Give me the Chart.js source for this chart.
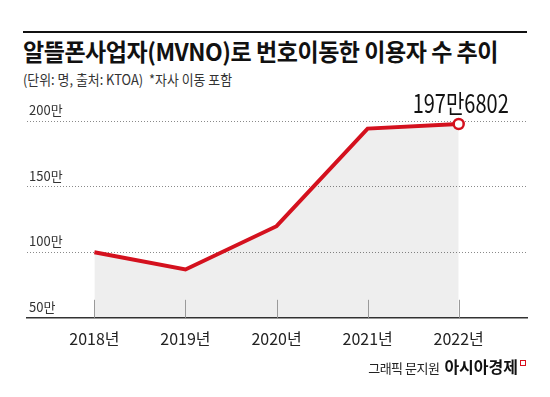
<!DOCTYPE html>
<html><head><meta charset="utf-8">
<script src="https://cdn.jsdelivr.net/npm/chart.js@4"></script>
<style>
html,body{margin:0;padding:0;background:#fff;}
body{width:550px;height:397px;position:relative;overflow:hidden;font-family:'Noto Sans CJK KR',sans-serif;}
#rule{position:absolute;left:23px;top:31px;width:504px;height:2px;background:#111;}
.fit{position:absolute;white-space:nowrap;transform-origin:0 0;line-height:1;}
#title{left:23px;top:39px;font-size:24px;font-weight:bold;color:#111;letter-spacing:-0.5px;}
#sub{left:23px;top:72px;font-size:14px;color:#333;}
#credit{position:absolute;right:32px;top:358px;white-space:nowrap;line-height:1;color:#222;}
#credit .a{font-size:13px;letter-spacing:-0.5px;}
#credit .b{font-size:16px;font-weight:bold;color:#111;margin-left:5px;}
#icon{position:absolute;left:520px;top:360px;width:4px;height:4px;border:1.5px solid #d7101e;}
canvas{position:absolute;left:0;top:0;}
</style></head>
<body>
<div id="rule"></div>
<div id="title" class="fit" data-w="475">알뜰폰사업자(MVNO)로 번호이동한 이용자 수 추이</div>
<div id="sub" class="fit" data-w="209">(단위: 명, 출처: KTOA)&nbsp;&nbsp;*자사 이동 포함</div>
<canvas id="c" width="550" height="397"></canvas>
<div id="credit"><span class="a">그래픽 문지원</span><span class="b">아시아경제</span></div>
<div id="icon"></div>
<script>
// data
const years = [2018, 2019, 2020, 2021, 2022];
const users = [1000000, 868000, 1198000, 1942000, 1976802];
const yTicks = [500000, 1000000, 1500000, 2000000];

document.querySelectorAll('.fit').forEach(el => {
  const w = el.getBoundingClientRect().width;
  el.style.transform = 'scaleX(' + (parseFloat(el.dataset.w) / w) + ')';
});

const RED = '#d4111e';
const fmtMan = v => Math.floor(v / 10000) + '만' + (v % 10000 ? (v % 10000) : '');

const tickMarks = {
  id: 'tickMarks',
  afterDatasetsDraw(chart) {
    const ctx = chart.ctx, xs = chart.scales.x, b = chart.chartArea.bottom;
    ctx.save();
    ctx.strokeStyle = '#9a9a9a';
    ctx.lineWidth = 1;
    years.forEach(y => {
      const px = Math.round(xs.getPixelForValue(y)) + 0.5;
      ctx.beginPath(); ctx.moveTo(px, b - 18); ctx.lineTo(px, b); ctx.stroke();
    });
    ctx.restore();
  }
};
const lastLabel = {
  id: 'lastLabel',
  afterDatasetsDraw(chart) {
    const meta = chart.getDatasetMeta(0);
    const i = users.length - 1;
    const pt = meta.data[i];
    const ctx = chart.ctx;
    ctx.save();
    ctx.translate(pt.x + 2, pt.y - 11);
    ctx.scale(0.8, 1);
    ctx.font = '25px "Noto Sans CJK KR", sans-serif';
    ctx.fillStyle = '#111';
    ctx.textAlign = 'center';
    ctx.textBaseline = 'alphabetic';
    ctx.fillText(fmtMan(users[i]), 0, 0);
    ctx.restore();
  }
};

new Chart(document.getElementById('c'), {
  type: 'line',
  data: {
    datasets: [{
      data: years.map((y, i) => ({x: y, y: users[i]})),
      borderColor: RED,
      borderWidth: 4,
      tension: 0,
      fill: 'start',
      backgroundColor: 'rgba(0,0,0,0.065)',
      pointRadius: users.map((v, i) => i === users.length - 1 ? 5 : 0),
      pointHoverRadius: 0,
      pointBackgroundColor: '#fff',
      pointBorderColor: RED,
      pointBorderWidth: 2.5,
      clip: false
    }]
  },
  options: {
    responsive: false,
    devicePixelRatio: 1,
    animation: false,
    events: [],
    layout: {padding: {left: 23, right: 23, top: 121, bottom: 36}},
    plugins: {legend: {display: false}, tooltip: {enabled: false}},
    scales: {
      x: {
        type: 'linear',
        min: 2017.26,
        max: 2022.75,
        afterBuildTicks: s => { s.ticks = years.map(v => ({value: v})); },
        grid: {display: false, drawTicks: false},
        border: {display: true, color: '#333', width: 1.5},
        ticks: {
          padding: 12,
          color: '#222',
          font: {family: '"Noto Sans CJK KR", sans-serif', size: 16},
          callback: v => v + '년'
        }
      },
      y: {
        min: 500000,
        max: 2000000,
        afterBuildTicks: s => { s.ticks = yTicks.map(v => ({value: v})); },
        grid: {
          drawTicks: false,
          color: c => c.tick && c.tick.value === yTicks[0] ? 'rgba(0,0,0,0)' : '#8a8a8a',
          lineWidth: 1
        },
        border: {display: false, dash: [1, 2]},
        ticks: {
          mirror: true,
          padding: 2,
          labelOffset: -11,
          color: '#333',
          font: {family: '"Noto Sans CJK KR", sans-serif', size: 13},
          callback: v => (v / 10000) + '만'
        }
      }
    }
  },
  plugins: [tickMarks, lastLabel]
});
</script>
</body></html>
